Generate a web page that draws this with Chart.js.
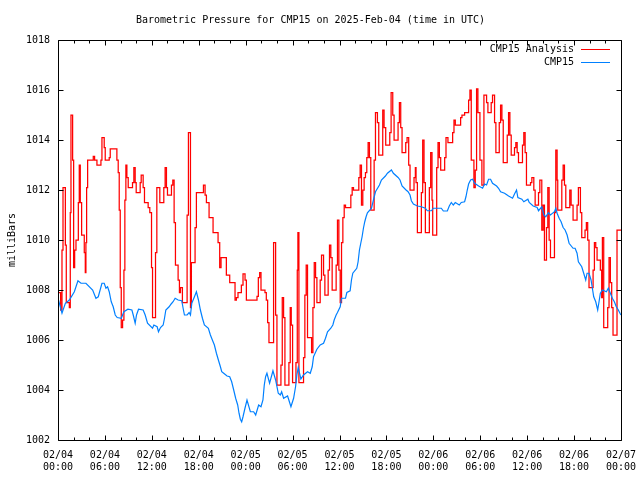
<!DOCTYPE html>
<html>
<head>
<meta charset="utf-8">
<script src="https://cdn.jsdelivr.net/npm/chart.js@4.4.1/dist/chart.umd.min.js"></script>
<style>
body { margin: 0; background: #fff; }
</style>
</head>
<body>
<canvas id="mycanvas" width="640" height="480"></canvas>
<script>
// hours since 02/04 00:00 UTC, pressure in milliBars
var redHours = [0, 0.34, 0.51, 0.64, 0.94, 1.06, 1.45, 1.57, 1.66, 1.87, 2.0, 2.13, 2.30, 2.60, 2.72, 2.85, 3.02, 3.36, 3.49, 3.57,
  3.66, 3.79, 4.51, 4.68, 4.98, 5.49, 5.62, 5.91, 6.04, 6.55, 6.68, 7.53, 7.70, 7.83, 7.96, 8.09, 8.26, 8.43, 8.55, 8.68,
  8.81, 8.98, 9.53, 9.70, 9.87, 10.0, 10.51, 10.64, 10.89, 11.06, 11.53, 11.74, 11.96, 12.09, 12.47, 12.64, 13.02, 13.53, 13.70, 13.87,
  14.0, 14.51, 14.68, 14.85, 15.02, 15.36, 15.53, 15.66, 15.91, 16.51, 16.68, 16.94, 17.06, 17.53, 17.70, 18.6, 18.81, 18.98, 19.32, 19.83,
  20.47, 20.68, 20.85, 21.53, 21.96, 22.64, 22.81, 23.02, 23.45, 23.66, 23.92, 24.09, 25.45, 25.62, 25.79, 25.96, 26.47, 26.64, 26.81, 26.98,
  27.57, 27.83, 28.0, 28.51, 28.68, 28.85, 29.02, 29.53, 29.70, 29.83, 30.0, 30.43, 30.6, 30.68, 30.81, 31.4, 31.57, 31.74, 31.91, 32.43,
  32.6, 32.77, 32.94, 33.11, 33.53, 33.7, 33.96, 34.13, 34.55, 34.72, 34.89, 35.06, 35.57, 35.74, 35.92, 36.09, 36.26, 36.43, 36.6, 36.77,
  37.45, 37.62, 37.79, 38.47, 38.64, 38.81, 38.98, 39.15, 39.32, 39.49, 39.66, 39.83, 40.0, 40.43, 40.6, 40.85, 41.02, 41.53, 41.7, 41.91,
  42.43, 42.6, 42.81, 42.98, 43.49, 43.66, 43.83, 44.0, 44.47, 44.64, 44.85, 45.02, 45.53, 45.7, 45.79, 45.96, 46.47, 46.64, 46.81, 46.98,
  47.49, 47.66, 47.83, 47.92, 48.43, 48.6, 48.77, 48.94, 49.45, 49.62, 49.87, 50.47, 50.64, 50.81, 51.49, 51.66, 52.0, 52.51, 52.68, 52.85,
  53.19, 53.36, 53.53, 53.7, 53.96, 54.21, 54.47, 54.81, 54.98, 55.4, 55.57, 55.83, 56.0, 56.43, 56.6, 56.77, 56.94, 57.45, 57.62, 57.79,
  57.96, 58.38, 58.55, 58.72, 58.89, 59.4, 59.57, 59.74, 59.91, 60.43, 60.6, 60.85, 61.02, 61.45, 61.62, 61.87, 62.04, 62.21, 62.47, 62.64,
  62.81, 62.98, 63.49, 63.66, 63.83, 63.91, 64.43, 64.6, 64.77, 64.94, 65.45, 65.62, 65.87, 66.38, 66.55, 66.81, 66.98, 67.4, 67.57, 67.74,
  67.91, 68.43, 68.6, 68.77, 68.94, 69.36, 69.53, 69.62, 69.79, 70.3, 70.47, 70.64, 70.81, 70.98, 71.49, 72.0];
var redValues = [1007.9, 1007.2, 1009.6, 1012.1, 1009.8, 1007.5, 1007.3, 1011.1, 1015.0, 1013.2, 1008.9, 1009.6, 1010.0, 1011.5, 1013.0, 1011.5, 1010.2, 1009.5, 1008.7, 1009.9,
  1012.1, 1013.2, 1013.35, 1013.2, 1013.0, 1013.2, 1014.1, 1013.7, 1013.2, 1013.3, 1013.65, 1013.2, 1012.7, 1011.2, 1008.1, 1006.5, 1006.8, 1008.8, 1011.6, 1013.0,
  1012.5, 1012.1, 1012.3, 1012.9, 1012.3, 1011.9, 1012.3, 1012.6, 1012.1, 1011.5, 1011.3, 1011.1, 1008.9, 1006.9, 1009.5, 1012.1, 1011.5, 1012.1, 1012.9, 1012.1,
  1011.8, 1012.2, 1012.4, 1010.7, 1009.0, 1008.4, 1007.9, 1008.1, 1007.5, 1011.0, 1014.3, 1007.3, 1009.1, 1010.5, 1011.9, 1012.2, 1011.8, 1011.5, 1010.9, 1010.3,
  1009.9, 1008.9, 1009.3, 1008.6, 1008.3, 1007.6, 1007.7, 1007.9, 1008.2, 1008.65, 1008.4, 1007.6, 1007.75, 1008.5, 1008.7, 1008.0, 1007.9, 1007.6, 1006.7, 1005.9,
  1009.9, 1007.0, 1004.2, 1005.0, 1007.7, 1006.9, 1004.2, 1005.1, 1007.3, 1006.6, 1004.3, 1005.1, 1008.8, 1010.3, 1004.3, 1005.3, 1007.8, 1009.0, 1006.1, 1005.5,
  1007.3, 1009.1, 1008.5, 1007.5, 1008.4, 1009.4, 1008.6, 1007.8, 1008.8, 1009.8, 1009.3, 1008.0, 1009.0, 1010.8, 1008.8, 1007.5, 1009.9, 1010.9, 1011.4, 1011.3,
  1011.8, 1012.1, 1012.0, 1012.5, 1013.0, 1011.4, 1012.0, 1012.5, 1012.7, 1013.3, 1013.9, 1013.3, 1011.2, 1013.2, 1015.1, 1014.7, 1013.4, 1015.2, 1014.5, 1013.8,
  1014.3, 1015.9, 1015.0, 1014.0, 1014.7, 1015.5, 1014.5, 1013.5, 1013.9, 1014.1, 1013.0, 1012.0, 1012.5, 1012.9, 1012.3, 1010.3, 1011.9, 1014.0, 1012.3, 1010.3,
  1012.1, 1013.5, 1011.6, 1010.2, 1012.9, 1013.9, 1013.3, 1012.8, 1013.3, 1014.1, 1013.9, 1014.3, 1014.8, 1014.6, 1014.9, 1015.0, 1015.1, 1015.6, 1016.0, 1013.2,
  1012.1, 1012.8, 1016.05, 1015.1, 1013.2, 1012.2, 1015.8, 1015.5, 1015.1, 1015.5, 1015.8, 1014.7, 1013.5, 1014.7, 1015.4, 1014.8, 1013.1, 1014.2, 1015.1, 1014.2,
  1013.4, 1013.7, 1013.9, 1013.5, 1013.1, 1013.8, 1014.3, 1013.5, 1012.2, 1012.3, 1012.5, 1012.0, 1011.4, 1011.9, 1012.4, 1010.4, 1011.4, 1009.2, 1010.5, 1012.1,
  1010.0, 1009.3, 1011.1, 1013.6, 1012.4, 1011.2, 1012.4, 1013.0, 1012.2, 1011.3, 1012.0, 1011.4, 1010.8, 1011.4, 1012.1, 1011.1, 1010.1, 1010.4, 1010.7, 1010.0,
  1008.1, 1008.8, 1009.9, 1009.7, 1009.2, 1008.8, 1007.7, 1010.1, 1006.5, 1007.3, 1009.3, 1008.3, 1007.3, 1006.2, 1010.4, 1010.4];

var blueHours = [0, 0.51, 0.94, 1.45, 2.09, 2.55, 2.94, 3.57, 4.43, 4.85, 5.15, 5.62, 5.91, 6.13, 6.34, 6.55, 6.81, 7.06, 7.32, 7.57,
  8.09, 8.43, 8.94, 9.45, 9.62, 9.87, 10.04, 10.3, 10.89, 11.15, 11.45, 12.09, 12.26, 12.68, 12.85, 13.11, 13.45, 13.62, 13.79, 14.21,
  14.47, 14.72, 14.98, 15.36, 15.83, 16.0, 16.17, 16.51, 16.77, 16.94, 17.11, 17.45, 17.7, 17.96, 18.21, 18.47, 18.72, 19.23, 19.49, 19.74,
  20.0, 20.26, 20.51, 20.77, 20.94, 21.19, 21.62, 21.96, 22.21, 22.47, 22.72, 22.98, 23.15, 23.32, 23.49, 23.66, 23.91, 24.17, 24.6, 25.02,
  25.28, 25.66, 25.96, 26.21, 26.38, 26.55, 26.72, 27.06, 27.49, 27.83, 28.17, 28.43, 28.6, 28.85, 29.36, 29.79, 30.13, 30.38, 30.55, 30.72,
  31.06, 31.4, 31.91, 32.26, 32.51, 32.68, 33.11, 33.53, 33.96, 34.21, 34.47, 34.89, 35.15, 35.32, 35.57, 35.74, 36.09, 36.26, 36.77, 36.94,
  37.36, 37.53, 37.7, 38.21, 38.38, 38.55, 38.72, 38.89, 39.06, 39.23, 39.4, 39.57, 40.09, 40.34, 40.6, 41.11, 41.36, 41.87, 42.13, 42.64,
  42.89, 43.49, 43.74, 44.0, 44.51, 44.77, 45.02, 45.19, 45.45, 45.96, 46.47, 46.98, 47.23, 47.75, 48.0, 49.02, 49.28, 49.79, 50.04, 50.3,
  50.55, 50.81, 51.32, 51.57, 52.0, 52.17, 52.34, 52.51, 52.77, 53.02, 53.28, 53.79, 54.3, 54.55, 54.81, 55.06, 55.32, 55.57, 56.09, 56.34,
  56.6, 57.11, 57.62, 58.13, 58.38, 58.64, 58.81, 59.32, 59.57, 60.09, 60.26, 60.77, 61.28, 61.45, 61.87, 62.13, 62.38, 62.72, 62.98, 63.49,
  63.66, 63.83, 64.09, 64.34, 64.6, 64.85, 65.11, 65.36, 65.87, 66.13, 66.38, 66.55, 66.98, 67.23, 67.49, 67.66, 67.91, 68.17, 68.34, 68.51,
  68.77, 69.02, 69.19, 69.36, 69.62, 70.13, 70.38, 70.64, 70.89, 71.15, 71.4, 71.66, 71.87, 72.0];
var blueValues = [1007.67, 1007.07, 1007.47, 1007.6, 1007.93, 1008.37, 1008.27, 1008.27, 1008.0, 1007.67, 1007.73, 1008.27, 1008.27, 1008.07, 1008.13, 1007.93, 1007.53, 1007.33, 1007.0, 1006.9,
  1006.87, 1007.13, 1007.23, 1007.2, 1007.0, 1006.67, 1007.0, 1007.23, 1007.2, 1007.0, 1006.67, 1006.47, 1006.6, 1006.53, 1006.33, 1006.5, 1006.6, 1006.87, 1007.2, 1007.33,
  1007.44, 1007.53, 1007.67, 1007.6, 1007.57, 1007.27, 1007.0, 1007.0, 1007.1, 1007.0, 1007.47, 1007.73, 1007.93, 1007.6, 1007.2, 1006.87, 1006.6, 1006.47, 1006.2, 1006.0,
  1005.8, 1005.47, 1005.2, 1004.93, 1004.73, 1004.67, 1004.56, 1004.53, 1004.33, 1004.0, 1003.67, 1003.4, 1003.07, 1002.83, 1002.73, 1002.93, 1003.27, 1003.6, 1003.13, 1003.13,
  1003.0, 1003.4, 1003.33, 1003.6, 1004.2, 1004.53, 1004.67, 1004.27, 1004.77, 1004.4, 1003.87, 1003.8, 1003.93, 1003.67, 1003.76, 1003.33, 1003.67, 1004.13, 1004.6, 1004.9,
  1004.44, 1004.6, 1004.73, 1004.67, 1004.93, 1005.33, 1005.63, 1005.8, 1005.87, 1006.07, 1006.33, 1006.47, 1006.6, 1006.8, 1007.0, 1007.1, 1007.33, 1007.67, 1007.67, 1007.9,
  1007.97, 1008.4, 1008.67, 1008.87, 1009.13, 1009.6, 1009.87, 1010.13, 1010.47, 1010.73, 1010.93, 1011.09, 1011.27, 1011.6, 1011.93, 1012.2, 1012.4, 1012.56, 1012.67, 1012.8,
  1012.67, 1012.5, 1012.4, 1012.16, 1012.0, 1011.93, 1011.8, 1011.57, 1011.44, 1011.36, 1011.33, 1011.27, 1011.17, 1011.17, 1011.27, 1011.27, 1011.16, 1011.16, 1011.36, 1011.5,
  1011.4, 1011.5, 1011.4, 1011.5, 1011.53, 1011.73, 1012.0, 1012.24, 1012.4, 1012.43, 1012.27, 1012.16, 1012.07, 1012.24, 1012.2, 1012.43, 1012.43, 1012.27, 1012.16, 1012.07,
  1011.93, 1011.87, 1011.76, 1011.67, 1011.84, 1012.0, 1011.7, 1011.63, 1011.53, 1011.63, 1011.5, 1011.36, 1011.3, 1011.17, 1011.33, 1011.0, 1010.93, 1011.09, 1011.0, 1011.13,
  1011.27, 1011.07, 1010.87, 1010.73, 1010.5, 1010.4, 1010.2, 1009.87, 1009.67, 1009.67, 1009.47, 1009.13, 1008.93, 1008.67, 1008.4, 1008.67, 1008.67, 1008.4, 1008.07, 1007.73,
  1007.53, 1007.2, 1007.53, 1007.87, 1008.0, 1007.93, 1008.07, 1007.87, 1007.67, 1007.53, 1007.33, 1007.2, 1007.07, 1007.0];

var tickDays = ['02/04', '02/04', '02/04', '02/04', '02/05', '02/05', '02/05', '02/05', '02/06', '02/06', '02/06', '02/06', '02/07'];
var tickTimes = ['00:00', '06:00', '12:00', '18:00', '00:00', '06:00', '12:00', '18:00', '00:00', '06:00', '12:00', '18:00', '00:00'];

function pairs(xs, ys) {
  var out = [];
  for (var i = 0; i < xs.length; i++) out.push({x: xs[i], y: ys[i]});
  return out;
}

// gnuplot style box, inward ticks on all four sides, and the legend
var framePlugin = {
  id: 'frame',
  afterDatasetsDraw: function(chart) {
    var ctx = chart.ctx, a = chart.chartArea;
    var xs = chart.scales.x, ys = chart.scales.y;
    var L = Math.round(a.left) + 0.5, R = Math.round(a.right) + 0.5;
    var T = Math.round(a.top) + 0.5, B = Math.round(a.bottom) + 0.5;
    ctx.save();
    ctx.strokeStyle = '#000';
    ctx.lineWidth = 1;
    ctx.beginPath();
    ctx.rect(L, T, R - L, B - T);
    for (var h = 0; h <= 72; h += 2) {
      var px = Math.round(xs.getPixelForValue(h)) + 0.5;
      var len = (h % 6 === 0) ? 5 : 3;
      ctx.moveTo(px, B); ctx.lineTo(px, B - len);
      ctx.moveTo(px, T); ctx.lineTo(px, T + len);
    }
    for (var v = 1002; v <= 1018; v += 2) {
      var py = Math.round(ys.getPixelForValue(v)) + 0.5;
      ctx.moveTo(L, py); ctx.lineTo(L + 5, py);
      ctx.moveTo(R, py); ctx.lineTo(R - 5, py);
    }
    ctx.stroke();

    ctx.font = '10px "DejaVu Sans Mono"';
    ctx.textAlign = 'right';
    ctx.textBaseline = 'middle';
    chart.data.datasets.forEach(function(ds, i) {
      var y = Math.round(a.top) + 9 + i * 13;
      ctx.fillStyle = '#000';
      ctx.fillText(ds.label, a.right - 47, y);
      ctx.strokeStyle = ds.borderColor;
      ctx.beginPath();
      ctx.moveTo(a.right - 40, y + 0.5);
      ctx.lineTo(a.right - 11, y + 0.5);
      ctx.stroke();
    });
    ctx.restore();
  }
};

Chart.defaults.font.family = '"DejaVu Sans Mono", monospace';
Chart.defaults.font.size = 10;
Chart.defaults.color = '#000';

var ctx = document.getElementById('mycanvas').getContext('2d');
var myChart = new Chart(ctx, {
  type: 'line',
  data: {
    datasets: [{
      label: 'CMP15 Analysis',
      data: pairs(redHours, redValues),
      borderColor: 'rgb(255, 0, 0)',
      borderWidth: 1.25,
      pointRadius: 0,
      stepped: 'before',
      order: 1
    }, {
      label: 'CMP15',
      data: pairs(blueHours, blueValues),
      borderColor: 'rgb(0, 128, 255)',
      borderWidth: 1.2,
      pointRadius: 0,
      tension: 0,
      order: 0
    }]
  },
  options: {
    responsive: false,
    animation: false,
    devicePixelRatio: 1,
    events: [],
    layout: { padding: { left: 0, right: 19, top: 0, bottom: 0 } },
    plugins: {
      legend: { display: false },
      tooltip: { enabled: false },
      title: {
        display: true,
        text: 'Barometric Pressure for CMP15 on 2025-Feb-04 (time in UTC)',
        font: { size: 10, weight: 'normal' },
        padding: { top: 14, bottom: 14 }
      }
    },
    scales: {
      x: {
        type: 'linear',
        min: 0,
        max: 72,
        grid: { display: false, drawTicks: false },
        border: { display: false },
        ticks: {
          stepSize: 6,
          autoSkip: false,
          maxRotation: 0,
          padding: 9,
          callback: function(value) {
            var i = Math.round(value / 6);
            return [tickDays[i], tickTimes[i]];
          }
        },
        afterFit: function(s) {
          s.height = 40;
          s.paddingLeft = 0;
          s.paddingRight = 0;
        }
      },
      y: {
        min: 1002,
        max: 1018,
        grid: { display: false, drawTicks: false },
        border: { display: false },
        title: { display: true, text: 'milliBars', padding: { top: 6, bottom: 0 } },
        ticks: {
          stepSize: 2,
          padding: 8,
          callback: function(value) { return String(value); }
        },
        afterFit: function(s) {
          s.width = 58;
          s.paddingTop = 0;
          s.paddingBottom = 0;
        }
      }
    }
  },
  plugins: [framePlugin]
});
</script>
</body>
</html>
